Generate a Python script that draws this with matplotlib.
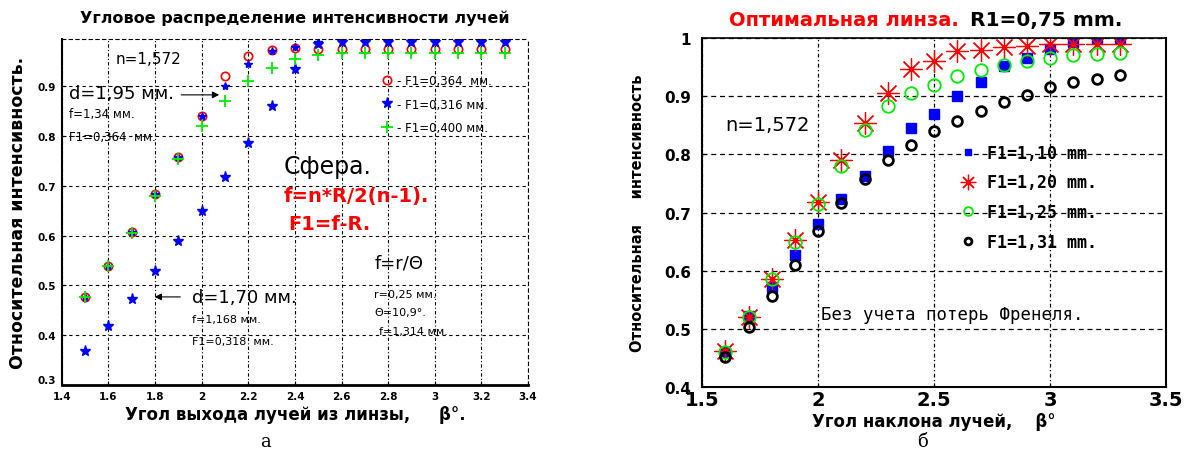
import numpy as np
import matplotlib.pyplot as plt

# left chart: angular intensity distribution
beta_a = [1.5, 1.6, 1.7, 1.8, 1.9, 2.0, 2.1, 2.2, 2.3, 2.4, 2.5, 2.6, 2.7, 2.8, 2.9, 3.0, 3.1, 3.2, 3.3]
red_364 = [0.477, 0.54, 0.608, 0.683, 0.759, 0.84, 0.92, 0.962, 0.974, 0.977, 0.976, 0.976, 0.976, 0.976, 0.976, 0.976, 0.976, 0.976, 0.976]
blue_upper = [0.477, 0.54, 0.608, 0.683, 0.759, 0.84, 0.90, 0.945, 0.972, 0.98, 0.99, 0.995, 0.995, 0.995, 0.995, 0.995, 0.995, 0.995, 0.995]
blue_316 = [0.368, 0.419, 0.473, 0.529, 0.59, 0.65, 0.717, 0.787, 0.86, 0.934, 0.985, 0.99, 0.99, 0.99, 0.99, 0.99, 0.99, 0.99, 0.99]
green_400 = [0.477, 0.54, 0.605, 0.68, 0.755, 0.82, 0.87, 0.91, 0.936, 0.955, 0.963, 0.968, 0.968, 0.968, 0.968, 0.968, 0.968, 0.968, 0.968]

# right chart: optimal lens
beta_b = [1.6, 1.7, 1.8, 1.9, 2.0, 2.1, 2.2, 2.3, 2.4, 2.5, 2.6, 2.7, 2.8, 2.9, 3.0, 3.1, 3.2, 3.3]
f110 = [0.46, 0.522, 0.572, 0.627, 0.68, 0.723, 0.763, 0.805, 0.845, 0.87, 0.9, 0.925, 0.952, 0.965, 0.981, 0.993, 1.0, 1.0]
f120 = [0.462, 0.52, 0.585, 0.652, 0.718, 0.79, 0.854, 0.905, 0.947, 0.96, 0.977, 0.98, 0.984, 0.987, 0.99, 0.99, 0.99, 0.99]
f125 = [0.46, 0.52, 0.585, 0.65, 0.715, 0.78, 0.842, 0.883, 0.905, 0.92, 0.935, 0.945, 0.954, 0.96, 0.965, 0.97, 0.972, 0.974]
f131 = [0.452, 0.503, 0.557, 0.61, 0.668, 0.716, 0.758, 0.79, 0.816, 0.84, 0.857, 0.875, 0.89, 0.902, 0.915, 0.924, 0.93, 0.937]

fig = plt.figure(figsize=(11.9, 4.56), dpi=100)
bold = dict(fontweight='bold')
mono = 'DejaVu Sans Mono'

# ---------- left ----------
ax = fig.add_axes([0.052, 0.1535, 0.3917, 0.7585])
ax.plot(beta_a, red_364, 'o', mfc='none', mec='red', ms=6, mew=1.2, label='- F1=0,364  мм.')
ax.plot(beta_a, blue_upper, '*', color='blue', ms=6, label='_nolegend_')
ax.plot(beta_a, blue_316, '*', color='blue', ms=8, label='- F1=0,316 мм.')
ax.plot(beta_a, green_400, '+', color='#00ee00', ms=8, mew=1.3, label='- F1=0,400 мм.')
ax.set_xlim(1.4, 3.4)
ax.set_ylim(0.3, 0.995)
ax.set_xticks(np.arange(1.4, 3.41, 0.2))
ax.set_xticklabels(['1.4', '1.6', '1.8', '2', '2.2', '2.4', '2.6', '2.8', '3', '3.2', '3.4'])
ax.set_yticks([0.3, 0.4, 0.5, 0.6, 0.7, 0.8, 0.9])
ax.set_yticklabels(['0.3', '0.4', '0.5', '0.6', '0.7', '0.8', '0.9'])
ax.tick_params(axis='x', labelsize=7.5, direction='in', length=3, pad=4)
ax.tick_params(axis='y', labelsize=7.5, direction='in', length=3, pad=4)
for t in ax.get_xticklabels() + ax.get_yticklabels():
    t.set_fontweight('bold')
ax.get_yticklabels()[0].set_va('bottom')
ax.xaxis.grid(True, color='black', ls=(0, (3, 2, 1, 2)), lw=0.8)
ax.yaxis.grid(True, color='black', ls=(0, (3, 3)), lw=0.8)
for s in ['top', 'right']:
    ax.spines[s].set_linestyle((0, (3, 3)))
    ax.spines[s].set_linewidth(0.8)
ax.spines['bottom'].set_linewidth(2)
ax.spines['left'].set_linewidth(1.5)
ax.set_title('Угловое распределение интенсивности лучей', fontsize=11.5, pad=12, **bold)
ax.set_xlabel('Угол выхода лучей из линзы,     β°.', fontsize=12, labelpad=3, **bold)
ax.set_ylabel('Относительная интенсивность.', fontsize=12.5, labelpad=8, **bold)
ax.legend(loc='upper left', bbox_to_anchor=(0.66, 0.93), frameon=False, fontsize=8.5,
          handletextpad=0.2, labelspacing=0.9, handlelength=1.2)

ax.text(1.63, 0.956, 'n=1,572', fontsize=11, va='center')
ax.text(1.43, 0.886, 'd=1,95 мм.', fontsize=13, va='center')
ax.annotate('', xy=(2.087, 0.883), xytext=(1.9, 0.883),
            arrowprops=dict(arrowstyle='-|>', color='black', lw=0.8))
ax.text(1.43, 0.846, 'f=1,34 мм.', fontsize=8.5, va='center')
ax.text(1.43, 0.80, 'F1=0,364  мм.', fontsize=8.5, va='center')
ax.text(2.35, 0.74, 'Сфера.', fontsize=17, va='center')
ax.text(2.35, 0.68, 'f=n*R/2(n-1).', fontsize=14, color='red', va='center', **bold)
ax.text(2.37, 0.624, 'F1=f-R.', fontsize=14, color='red', va='center', **bold)
ax.text(2.74, 0.547, 'f=r/Θ', fontsize=13, va='center')
ax.text(2.74, 0.483, 'r=0,25 мм.', fontsize=8, va='center')
ax.text(2.74, 0.447, 'Θ=10,9°.', fontsize=8, va='center')
ax.text(2.76, 0.409, 'f=1,314 мм.', fontsize=8, va='center')
ax.text(1.96, 0.477, 'd=1,70 мм.', fontsize=13, va='center')
ax.annotate('', xy=(1.786, 0.477), xytext=(1.92, 0.477),
            arrowprops=dict(arrowstyle='-|>', color='black', lw=0.8))
ax.text(1.96, 0.433, 'f=1,168 мм.', fontsize=8, va='center')
ax.text(1.96, 0.389, 'F1=0,318  мм.', fontsize=8, va='center')

# ---------- right ----------
bx = fig.add_axes([0.59, 0.149, 0.39, 0.7655])
bx.plot(beta_b, f110, 's', color='blue', ms=7, label='F1=1,10 mm')
bx.plot(beta_b, f120, marker=(8, 2, 0), ls='none', color='red', ms=16, mew=0.9, label='F1=1,20 mm.')
bx.plot(beta_b, f125, 'o', mfc='none', mec='#00ee00', ms=9, mew=1.3, label='F1=1,25 mm.')
bx.plot(beta_b, f131, 'o', mfc='none', mec='black', ms=7, mew=2, label='F1=1,31 mm.')
bx.set_xlim(1.5, 3.5)
bx.set_ylim(0.4, 1.0)
bx.set_xticks([1.5, 2, 2.5, 3, 3.5])
bx.set_xticklabels(['1.5', '2', '2.5', '3', '3.5'])
bx.set_yticks([0.4, 0.5, 0.6, 0.7, 0.8, 0.9, 1.0])
bx.set_yticklabels(['0.4', '0.5', '0.6', '0.7', '0.8', '0.9', '1'])
bx.tick_params(axis='x', labelsize=14, direction='in', length=3, pad=2)
bx.tick_params(axis='y', labelsize=11, direction='in', length=3, pad=8)
for t in bx.get_xticklabels() + bx.get_yticklabels():
    t.set_fontweight('bold')
bx.xaxis.grid(True, color='black', ls=(0, (3, 2, 1, 2)), lw=0.9)
bx.yaxis.grid(True, color='black', ls=(0, (4, 3)), lw=0.9)
bx.spines['left'].set_linewidth(1.5)
bx.spines['right'].set_linewidth(1.5)
bx.spines['bottom'].set_linewidth(1.5)
bx.spines['top'].set_linewidth(1.2)
bx.set_xlabel('Угол наклона лучей,    β°', fontsize=12, labelpad=2, **bold)
bx.set_ylabel('Относительная     интенсивность', fontsize=10.5, labelpad=14, **bold)
fig.text(0.806, 0.955, 'Оптимальная линза.', color='red', fontsize=14, ha='right', va='center', **bold)
fig.text(0.815, 0.955, 'R1=0,75 mm.', color='black', fontsize=14.5, ha='left', va='center', **bold)
bx.legend(loc='upper left', bbox_to_anchor=(0.52, 0.74), frameon=False,
          prop=dict(family=mono, size=12, weight='bold'),
          handletextpad=0.5, labelspacing=0.7, handlelength=1.2, markerscale=0.7)
bx.text(1.6, 0.852, 'n=1,572', fontsize=14, va='center')
bx.text(2.013, 0.526, 'Без учета потерь Френеля.', fontsize=12.5, family=mono, va='center')

fig.text(0.223, 0.02, 'а', fontsize=13, family='DejaVu Serif', ha='center')
fig.text(0.775, 0.02, 'б', fontsize=13, family='DejaVu Serif', ha='center')

fig.savefig('out.png', dpi=100)
